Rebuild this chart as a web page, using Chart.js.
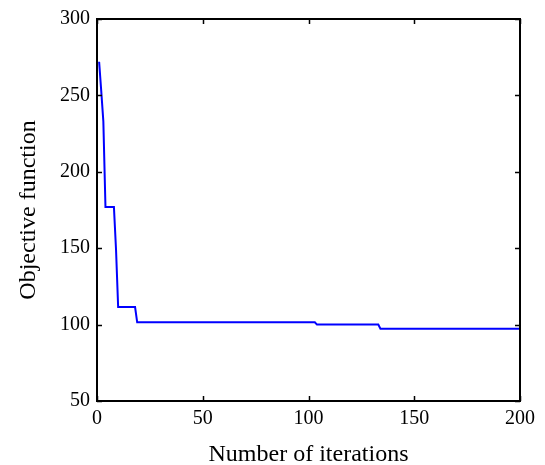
<!DOCTYPE html>
<html>
<head>
<meta charset="utf-8">
<script src="https://cdn.jsdelivr.net/npm/chart.js@4.4.1/dist/chart.umd.min.js"></script>
<style>
  html, body { margin: 0; padding: 0; background: #fff; }
  #wrap { width: 545px; height: 465px; }
</style>
</head>
<body>
<div id="wrap"><canvas id="chart-objective"></canvas></div>
<script>
// breakpoints of the objective curve (iteration, value)
const iterations = [1, 2, 3, 4, 8, 9, 10, 18, 19, 103, 104, 133, 134, 200];
const objectiveValues = [272, 253, 233, 177, 177, 149, 111.5, 111.5, 101.5, 101.5, 100, 100, 97.3, 97.3];
const xTicks = [0, 50, 100, 150, 200];
const yTicks = [50, 100, 150, 200, 250, 300];

const SERIF = "'Liberation Serif', 'Times New Roman', serif";
const TICK_FONT = { family: SERIF, size: 20 };
const TITLE_FONT = { family: SERIF, size: 24, lineHeight: 1 };

// MATLAB-like box with inward ticks on all four sides
const boxPlugin = {
  id: "box",
  afterDraw(chart) {
    const { ctx, chartArea: a, scales } = chart;
    const len = 5;
    ctx.save();
    ctx.strokeStyle = "#000";
    ctx.lineWidth = 1.5;
    ctx.beginPath();
    scales.x.ticks.forEach(t => {
      const px = Math.round(scales.x.getPixelForValue(t.value)) + 0.5;
      ctx.moveTo(px, a.bottom); ctx.lineTo(px, a.bottom - len);
      ctx.moveTo(px, a.top); ctx.lineTo(px, a.top + len);
    });
    scales.y.ticks.forEach(t => {
      const py = Math.round(scales.y.getPixelForValue(t.value)) + 0.5;
      ctx.moveTo(a.left, py); ctx.lineTo(a.left + len, py);
      ctx.moveTo(a.right, py); ctx.lineTo(a.right - len, py);
    });
    ctx.stroke();
    ctx.lineWidth = 2;
    ctx.strokeRect(a.left, a.top, a.right - a.left, a.bottom - a.top);
    ctx.restore();
  }
};

new Chart(document.getElementById("chart-objective").getContext("2d"), {
  type: "line",
  data: {
    datasets: [{
      data: iterations.map((it, i) => ({ x: it, y: objectiveValues[i] })),
      borderColor: "#0000ff",
      borderWidth: 2,
      pointRadius: 0,
      tension: 0,
      fill: false
    }]
  },
  options: {
    responsive: true,
    maintainAspectRatio: false,
    animation: false,
    layout: { padding: { top: 19, right: 25, left: 0, bottom: 0 } },
    plugins: { legend: { display: false }, tooltip: { enabled: false } },
    scales: {
      x: {
        type: "linear",
        min: 0,
        max: 200,
        afterBuildTicks: scale => { scale.ticks = xTicks.map(v => ({ value: v })); },
        afterFit: scale => { scale.height = 64; },
        grid: { display: false, drawTicks: false },
        border: { display: false },
        ticks: { color: "#000", font: TICK_FONT, padding: 6, maxRotation: 0 },
        title: { display: true, text: "Number of iterations", color: "#000", font: TITLE_FONT, padding: { top: 0, bottom: -2 } }
      },
      y: {
        min: 50,
        max: 300,
        afterBuildTicks: scale => { scale.ticks = yTicks.map(v => ({ value: v })); },
        afterFit: scale => { scale.width = 97; },
        grid: { display: false, drawTicks: false },
        border: { display: false },
        ticks: { color: "#000", font: TICK_FONT, padding: 7 },
        title: { display: true, text: "Objective function", color: "#000", font: TITLE_FONT, padding: { top: 17, bottom: 0 } }
      }
    }
  },
  plugins: [boxPlugin]
});
</script>
</body>
</html>
